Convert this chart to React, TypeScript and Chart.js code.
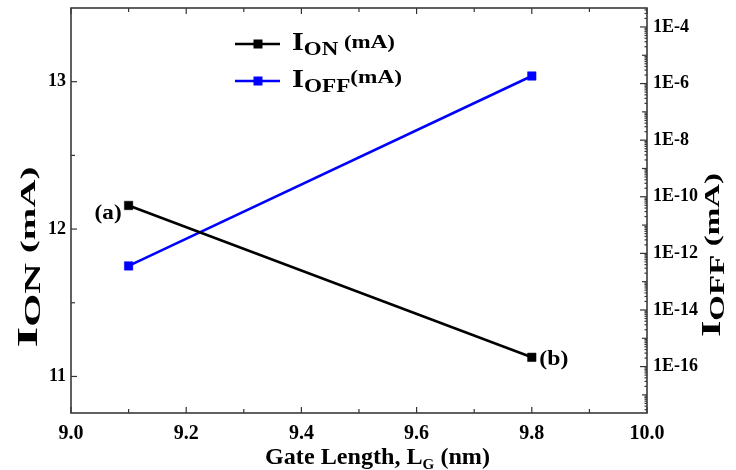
import { useEffect, useRef } from 'react';
import { Chart, registerables } from 'chart.js';

Chart.register(...registerables);

// Gate length sweep (nm) and the two device currents at each length
const gateLength = [9.1, 9.8];
const ionValues = [12.16, 11.13];
const ioffValues = [3.6e-13, 1.85e-6];
const pointLabels = ['(a)', '(b)'];

// Axis ticks
const xTickValues = [9.0, 9.2, 9.4, 9.6, 9.8, 10.0];
const xMinorValues = [9.1, 9.3, 9.5, 9.7, 9.9];
const ionTickValues = [11, 12, 13];
const ionMinorValues = [11.5, 12.5];
const ioffTickExponents = [-16, -14, -12, -10, -8, -6, -4];

const SERIF = '"Liberation Serif", "Times New Roman", serif';
const BLUE = '#0000ff';

type Seg = { text: string; size: number; dy: number };

function segFont(size: number) {
  return `bold ${size}px ${SERIF}`;
}

function richWidth(ctx: CanvasRenderingContext2D, segs: Seg[]) {
  let w = 0;
  for (const s of segs) {
    ctx.font = segFont(s.size);
    w += ctx.measureText(s.text).width;
  }
  return w;
}

// Draws text made of runs of different sizes/offsets (for subscripts),
// stretched along the baseline so that it spans `span` pixels.
function drawRich(
  ctx: CanvasRenderingContext2D,
  segs: Seg[],
  x: number,
  y: number,
  span: number,
  align: 'left' | 'center' | 'right',
  rotate = 0,
  color = '#000'
) {
  const natural = richWidth(ctx, segs);
  const sx = span / natural;
  ctx.save();
  ctx.translate(x, y);
  if (rotate) ctx.rotate(rotate);
  ctx.scale(sx, 1);
  ctx.fillStyle = color;
  ctx.textBaseline = 'alphabetic';
  ctx.textAlign = 'left';
  let cx = align === 'left' ? 0 : align === 'center' ? -natural / 2 : -natural;
  for (const s of segs) {
    ctx.font = segFont(s.size);
    ctx.fillText(s.text, cx, s.dy);
    cx += ctx.measureText(s.text).width;
  }
  ctx.restore();
}

function line(ctx: CanvasRenderingContext2D, x1: number, y1: number, x2: number, y2: number) {
  ctx.beginPath();
  ctx.moveTo(x1, y1);
  ctx.lineTo(x2, y2);
  ctx.stroke();
}

const framePlugin = {
  id: 'frameAndTicks',
  afterDraw(chart: any) {
    const { ctx, chartArea, scales } = chart;
    const { left, right, top, bottom } = chartArea;
    ctx.save();
    ctx.strokeStyle = '#333';
    ctx.lineWidth = 1.2;

    // x ticks, bottom and top, pointing inward
    const xs = scales.x;
    for (const v of xTickValues) {
      const p = xs.getPixelForValue(v);
      line(ctx, p, bottom, p, bottom - 6);
      line(ctx, p, top, p, top + 6);
    }
    for (const v of xMinorValues) {
      const p = xs.getPixelForValue(v);
      line(ctx, p, bottom, p, bottom - 4);
      line(ctx, p, top, p, top + 4);
    }

    // left (linear) ticks
    const ys = scales.y;
    for (const v of ionTickValues) {
      const p = ys.getPixelForValue(v);
      line(ctx, left, p, left + 6, p);
    }
    for (const v of ionMinorValues) {
      const p = ys.getPixelForValue(v);
      line(ctx, left, p, left + 4, p);
    }

    // right (log) ticks
    const y1 = scales.y1;
    for (let e = -18; e <= -3; e++) {
      for (let m = 1; m <= 9; m++) {
        const v = m * Math.pow(10, e);
        if (v < y1.min || v > y1.max) continue;
        const p = y1.getPixelForValue(v);
        const len = m === 1 ? (e % 2 === 0 ? 7 : 5) : 2.5;
        line(ctx, right, p, right - len, p);
      }
    }

    // plot frame
    ctx.lineWidth = 1.6;
    ctx.strokeStyle = '#3a3a3a';
    ctx.strokeRect(left, top, right - left, bottom - top);
    ctx.restore();
  },
};

const textPlugin = {
  id: 'richText',
  afterDraw(chart: any) {
    const { ctx, scales } = chart;

    // axis titles
    drawRich(
      ctx,
      [
        { text: 'Gate Length, L', size: 24, dy: 0 },
        { text: 'G', size: 15, dy: 5 },
        { text: ' (nm)', size: 24, dy: 0 },
      ],
      265,
      464,
      225,
      'left'
    );
    drawRich(
      ctx,
      [
        { text: 'I', size: 30, dy: 0 },
        { text: 'ON', size: 24, dy: 3 },
        { text: ' (mA)', size: 22, dy: -2 },
      ],
      37,
      257,
      181,
      'center',
      -Math.PI / 2
    );
    drawRich(
      ctx,
      [
        { text: 'I', size: 28, dy: 0 },
        { text: 'OFF', size: 22, dy: 4 },
        { text: ' (mA)', size: 22, dy: -1 },
      ],
      720,
      255,
      164,
      'center',
      -Math.PI / 2
    );

    // legend
    const rows = [
      {
        color: '#000',
        y: 44,
        segs: [
          { text: 'I', size: 25, dy: 6 },
          { text: 'ON', size: 19, dy: 11 },
          { text: ' (mA)', size: 19, dy: 4 },
        ],
        span: 103,
      },
      {
        color: BLUE,
        y: 81,
        segs: [
          { text: 'I', size: 25, dy: 6 },
          { text: 'OFF', size: 19, dy: 11 },
          { text: '(mA)', size: 19, dy: 2 },
        ],
        span: 110,
      },
    ];
    for (const r of rows) {
      ctx.save();
      ctx.strokeStyle = r.color;
      ctx.fillStyle = r.color;
      ctx.lineWidth = 2.5;
      line(ctx, 235, r.y, 280, r.y);
      ctx.fillRect(258 - 4.5, r.y - 4.5, 9, 9);
      ctx.restore();
      drawRich(ctx, r.segs, 292, r.y, r.span, 'left');
    }

    // point annotations
    const xs = scales.x;
    const ys = scales.y;
    const ax = xs.getPixelForValue(gateLength[0]);
    const ay = ys.getPixelForValue(ionValues[0]);
    drawRich(ctx, [{ text: pointLabels[0], size: 20, dy: 0 }], ax - 7, ay + 14, 27, 'right');
    const bx = xs.getPixelForValue(gateLength[1]);
    const by = ys.getPixelForValue(ionValues[1]);
    drawRich(ctx, [{ text: pointLabels[1], size: 20, dy: 0 }], bx + 7.5, by + 8, 29, 'left');
  },
};

const tickFont = { family: SERIF, size: 18, weight: 'bold' as const };
const xTickFont = { family: SERIF, size: 20, weight: 'bold' as const };

// Keep the plot area fixed: no extra room reserved for half-height edge labels
function noEdgePadding(scale: any) {
  scale.paddingTop = 0;
  scale.paddingBottom = 0;
  scale.paddingLeft = 0;
  scale.paddingRight = 0;
}

export default function App() {
  const canvasRef = useRef<HTMLCanvasElement>(null);

  useEffect(() => {
    document.body.style.margin = '0';
    const canvas = canvasRef.current;
    if (!canvas) return;

    const chart = new Chart(canvas, {
      type: 'line',
      data: {
        datasets: [
          {
            label: 'ION (mA)',
            data: gateLength.map((x, i) => ({ x, y: ionValues[i] })),
            yAxisID: 'y',
            borderColor: '#000',
            backgroundColor: '#000',
            borderWidth: 2.5,
            pointStyle: 'rect',
            pointRadius: 6,
            pointBorderWidth: 0.5,
            tension: 0,
          },
          {
            label: 'IOFF (mA)',
            data: gateLength.map((x, i) => ({ x, y: ioffValues[i] })),
            yAxisID: 'y1',
            borderColor: BLUE,
            backgroundColor: BLUE,
            borderWidth: 2.5,
            pointStyle: 'rect',
            pointRadius: 6,
            pointBorderWidth: 0.5,
            tension: 0,
          },
        ],
      },
      options: {
        responsive: false,
        animation: false,
        devicePixelRatio: 1,
        layout: { padding: { top: 8, left: 0, right: 0, bottom: 0 } },
        plugins: {
          legend: { display: false },
          tooltip: { enabled: false },
        },
        scales: {
          x: {
            type: 'linear',
            position: 'bottom',
            min: 9.0,
            max: 10.0,
            grid: { display: false, drawTicks: false },
            border: { display: false },
            afterBuildTicks: (scale: any) => {
              scale.ticks = xTickValues.map((value) => ({ value }));
            },
            afterFit: (scale: any) => {
              scale.height = 57;
              noEdgePadding(scale);
            },
            ticks: {
              autoSkip: false,
              maxRotation: 0,
              padding: 9,
              color: '#000',
              font: xTickFont,
              callback: (v: any) => Number(v).toFixed(1),
            },
          },
          y: {
            type: 'linear',
            position: 'left',
            min: 10.752,
            max: 13.5,
            grid: { display: false, drawTicks: false },
            border: { display: false },
            afterBuildTicks: (scale: any) => {
              scale.ticks = ionTickValues.map((value) => ({ value }));
            },
            afterFit: (scale: any) => {
              scale.width = 71;
              noEdgePadding(scale);
            },
            ticks: {
              autoSkip: false,
              padding: 5,
              color: '#000',
              font: tickFont,
              callback: (v: any) => String(v),
            },
          },
          y1: {
            type: 'logarithmic',
            position: 'right',
            min: Math.pow(10, -17.64),
            max: Math.pow(10, -3.33),
            grid: { display: false, drawTicks: false },
            border: { display: false },
            afterBuildTicks: (scale: any) => {
              scale.ticks = ioffTickExponents.map((e) => ({ value: Math.pow(10, e) }));
            },
            afterFit: (scale: any) => {
              scale.width = 89;
              noEdgePadding(scale);
            },
            ticks: {
              autoSkip: false,
              padding: 6,
              color: '#000',
              font: tickFont,
              callback: (v: any) => '1E' + Math.round(Math.log10(Number(v))),
            },
          },
        },
      },
      plugins: [framePlugin, textPlugin],
    });

    return () => chart.destroy();
  }, []);

  return (
    <div style={{ width: 736, height: 470 }}>
      <canvas ref={canvasRef} width={736} height={470} style={{ display: 'block' }} />
    </div>
  );
}
